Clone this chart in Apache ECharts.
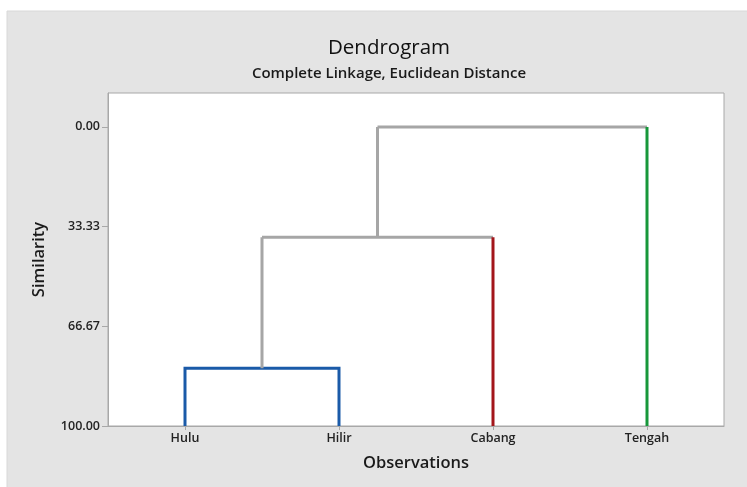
<!DOCTYPE html>
<html>
<head>
<meta charset="utf-8">
<script src="https://cdn.jsdelivr.net/npm/echarts@6/dist/echarts.min.js"></script>
<style>
html,body{margin:0;padding:0;background:#fff;}
#c{width:747px;height:487px;}
</style>
</head>
<body>
<div id="c"></div>
<script>
// Observations (leaves) in display order
var observations = ['Hulu', 'Hilir', 'Cabang', 'Tengah'];
// Leaf colours (cluster membership)
var leafColors = ['#1a5aa8', '#1a5aa8', '#a3161b', '#17973a'];
// Merge steps: [childA, childB, similarity]; children < 0 refer to earlier merges (-1 = first merge ...)
var mergeA = [0, -1, -2];
var mergeB = [1, 2, 3];
var mergeSim = [80.67, 36.9, 0.0];
var mergeColors = ['#1a5aa8', '#a6a6a6', '#a6a6a6'];
// Y-axis tick labels
var yTicks = [0, 33.33, 66.67, 100];

var nodeX = [], nodeY = [];
function pos(id) {
  if (id >= 0) return [id, 100];
  return [nodeX[-id - 1], nodeY[-id - 1]];
}
var series = [];
function addLine(pts, color) {
  series.push({
    type: 'line', data: pts, symbol: 'none', silent: true,
    lineStyle: {color: color, width: 3, join: 'miter'}, z: 3
  });
}
for (var i = 0; i < mergeA.length; i++) {
  var a = pos(mergeA[i]), b = pos(mergeB[i]), s = mergeSim[i];
  var ca = mergeA[i] >= 0 ? leafColors[mergeA[i]] : mergeColors[i];
  var cb = mergeB[i] >= 0 ? leafColors[mergeB[i]] : mergeColors[i];
  if (mergeA[i] >= 0 && mergeB[i] >= 0 && ca === cb) {
    addLine([[a[0], a[1]], [a[0], s], [b[0], s], [b[0], b[1]]], mergeColors[i]);
  } else {
    addLine([[a[0], s], [b[0], s]], mergeColors[i]);
    addLine([[a[0], a[1]], [a[0], s]], ca);
    addLine([[b[0], b[1]], [b[0], s]], cb);
  }
  nodeX.push((a[0] + b[0]) / 2);
  nodeY.push(s);
}

var labelStyle = {color: '#222', fontSize: 12.5, fontFamily: 'Open Sans', fontWeight: 600};
var nameStyle = {fontFamily: 'Open Sans', fontSize: 16.5, fontWeight: 600, color: '#1a1a1a'};
var option = {
  animation: false,
  backgroundColor: '#fff',
  title: [
    {text: 'Dendrogram', left: 384, top: 33, textAlign: 'center',
     textStyle: {fontFamily: 'Open Sans', fontSize: 20.5, fontWeight: 'normal', color: '#111'}},
    {text: 'Complete Linkage, Euclidean Distance', left: 384, top: 61, textAlign: 'center',
     textStyle: {fontFamily: 'Open Sans', fontSize: 15, fontWeight: 600, color: '#1a1a1a'}}
  ],
  graphic: [
    {type: 'rect', z: -10, silent: true, shape: {x: 7, y: 11, width: 745, height: 480},
     style: {fill: '#e4e4e4', stroke: '#d8d8d8', lineWidth: 1}}
  ],
  grid: {left: 108, top: 93, width: 616, height: 333, show: true,
         backgroundColor: '#fff', borderColor: '#a8a8a8', borderWidth: 1},
  xAxis: {
    type: 'value', min: -0.5, max: 3.5,
    name: 'Observations', nameLocation: 'middle', nameGap: 29,
    nameTextStyle: nameStyle,
    axisLine: {show: true, onZero: false, lineStyle: {color: '#a8a8a8'}},
    axisTick: {show: true, length: 4, customValues: [0, 1, 2, 3], lineStyle: {color: '#a8a8a8'}},
    axisLabel: Object.assign({customValues: [0, 1, 2, 3], margin: 6,
      formatter: function (v) { return observations[Math.round(v)]; }}, labelStyle),
    splitLine: {show: false}
  },
  yAxis: {
    type: 'value', inverse: true, min: -11.33, max: 100,
    name: 'Similarity', nameLocation: 'middle', nameGap: 60, nameRotate: 90,
    nameTextStyle: nameStyle,
    axisLine: {show: true, onZero: false, lineStyle: {color: '#a8a8a8'}},
    axisTick: {show: true, length: 6, customValues: yTicks, lineStyle: {color: '#a8a8a8'}},
    axisLabel: Object.assign({customValues: yTicks, margin: 8,
      formatter: function (v) { return v.toFixed(2); }}, labelStyle),
    splitLine: {show: false}
  },
  series: series
};
echarts.init(document.getElementById('c')).setOption(option);
</script>
</body>
</html>
